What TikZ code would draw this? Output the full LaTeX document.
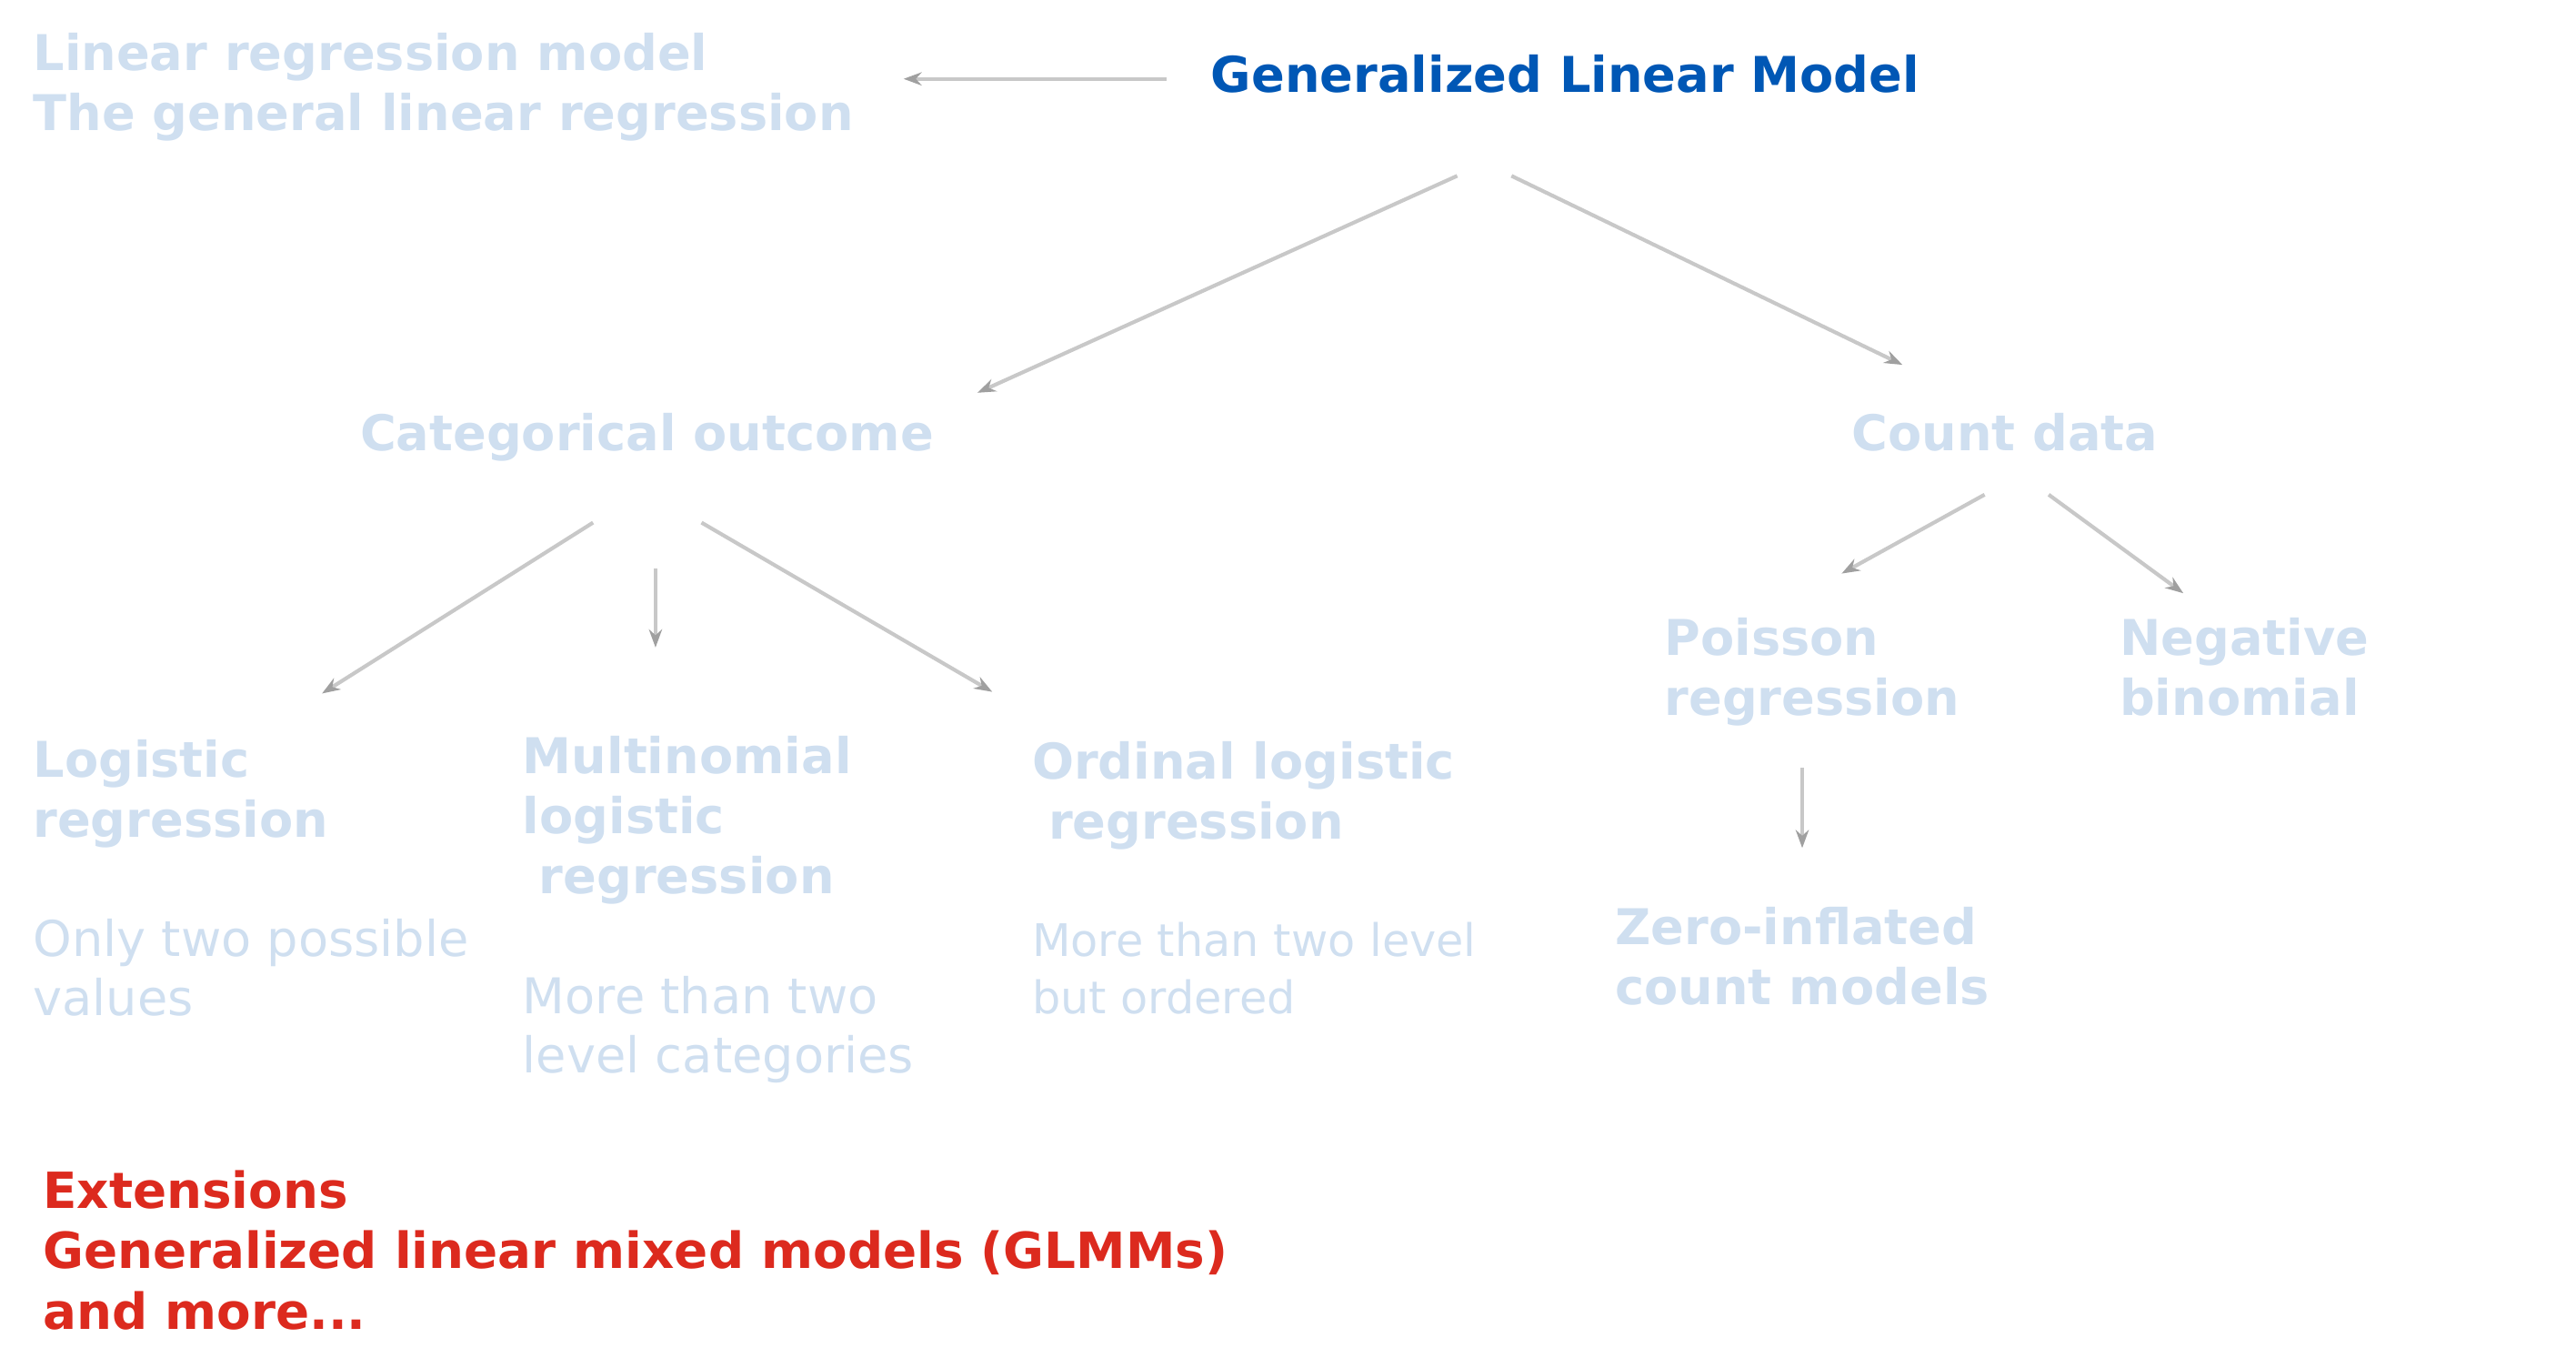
\documentclass[tikz,border=0pt]{standalone}
\usepackage{fontspec}
\setmainfont{DejaVu Sans}
\usetikzlibrary{arrows.meta}
\definecolor{lb}{HTML}{CFDFF0}
\definecolor{tb}{HTML}{0057B5}
\definecolor{rd}{HTML}{DC2A1E}
\definecolor{ln}{HTML}{C8C8C8}
\definecolor{tipc}{HTML}{A0A0A0}
\begin{document}
\begin{tikzpicture}[x=1pt,y=-1pt,
  lbl/.style={anchor=north west,inner sep=0pt,align=left,font=\fontsize{30}{36.5}\selectfont\bfseries,text=lb},
  lbn/.style={anchor=north west,inner sep=0pt,align=left,font=\fontsize{30}{36}\selectfont,text=lb},
  lbs/.style={anchor=north west,inner sep=0pt,align=left,font=\fontsize{27.3}{35}\selectfont,text=lb},
  conn/.style={draw=ln,line width=2.3pt,-{Stealth[length=11pt,width=8pt,color=tipc]}}]
\useasboundingbox (0,0) rectangle (1568,832);

\node[lbl] (lin) at (20,20) {Linear regression model\\The general linear regression};
\node[lbl,text=tb] (glm) at (737,33) {Generalized Linear Model};
\node[lbl] (cat) at (219,251) {Categorical outcome};
\node[lbl] (cnt) at (1127,251) {Count data};
\node[lbl] (poi) at (1013,376) {Poisson\\regression};
\node[lbl] (neg) at (1290,376) {Negative\\binomial};
\node[lbl] (zin) at (983,552) {Zero-inflated\\count models};
\node[lbl] (log) at (20,450) {Logistic\\regression};
\node[lbl] (mul) at (318,448) {Multinomial\\logistic\\\hspace*{10pt}regression};
\node[lbl] (ord) at (628,451) {Ordinal logistic\\\hspace*{10pt}regression};
\node[lbn] (two) at (20,559) {Only two possible\\values};
\node[lbn] (mtt) at (318,594) {More than two\\level categories};
\node[lbs] (mto) at (628,561) {More than two level\\but ordered};
\node[lbl,text=rd,font=\fontsize{30.3}{36.8}\selectfont\bfseries] (ext) at (26,712) {Extensions\\Generalized linear mixed models (GLMMs)\\and more...};

\coordinate (a1s) at (710,48);  \coordinate (a1e) at (550,48);
\coordinate (a2s) at (887,107); \coordinate (a2e) at (595,239);
\coordinate (a3s) at (920,107); \coordinate (a3e) at (1158,222);
\coordinate (a4s) at (361,318); \coordinate (a4e) at (196,422);
\coordinate (a5s) at (399,346); \coordinate (a5e) at (399,394);
\coordinate (a6s) at (427,318); \coordinate (a6e) at (604,421);
\coordinate (a7s) at (1208,301); \coordinate (a7e) at (1121,349);
\coordinate (a8s) at (1247,301); \coordinate (a8e) at (1329,361);
\coordinate (a9s) at (1097,467); \coordinate (a9e) at (1097,516);

\draw[conn] (a1s) -- (a1e);
\draw[conn] (a2s) -- (a2e);
\draw[conn] (a3s) -- (a3e);
\draw[conn] (a4s) -- (a4e);
\draw[conn] (a5s) -- (a5e);
\draw[conn] (a6s) -- (a6e);
\draw[conn] (a7s) -- (a7e);
\draw[conn] (a8s) -- (a8e);
\draw[conn] (a9s) -- (a9e);
\end{tikzpicture}
\end{document}
